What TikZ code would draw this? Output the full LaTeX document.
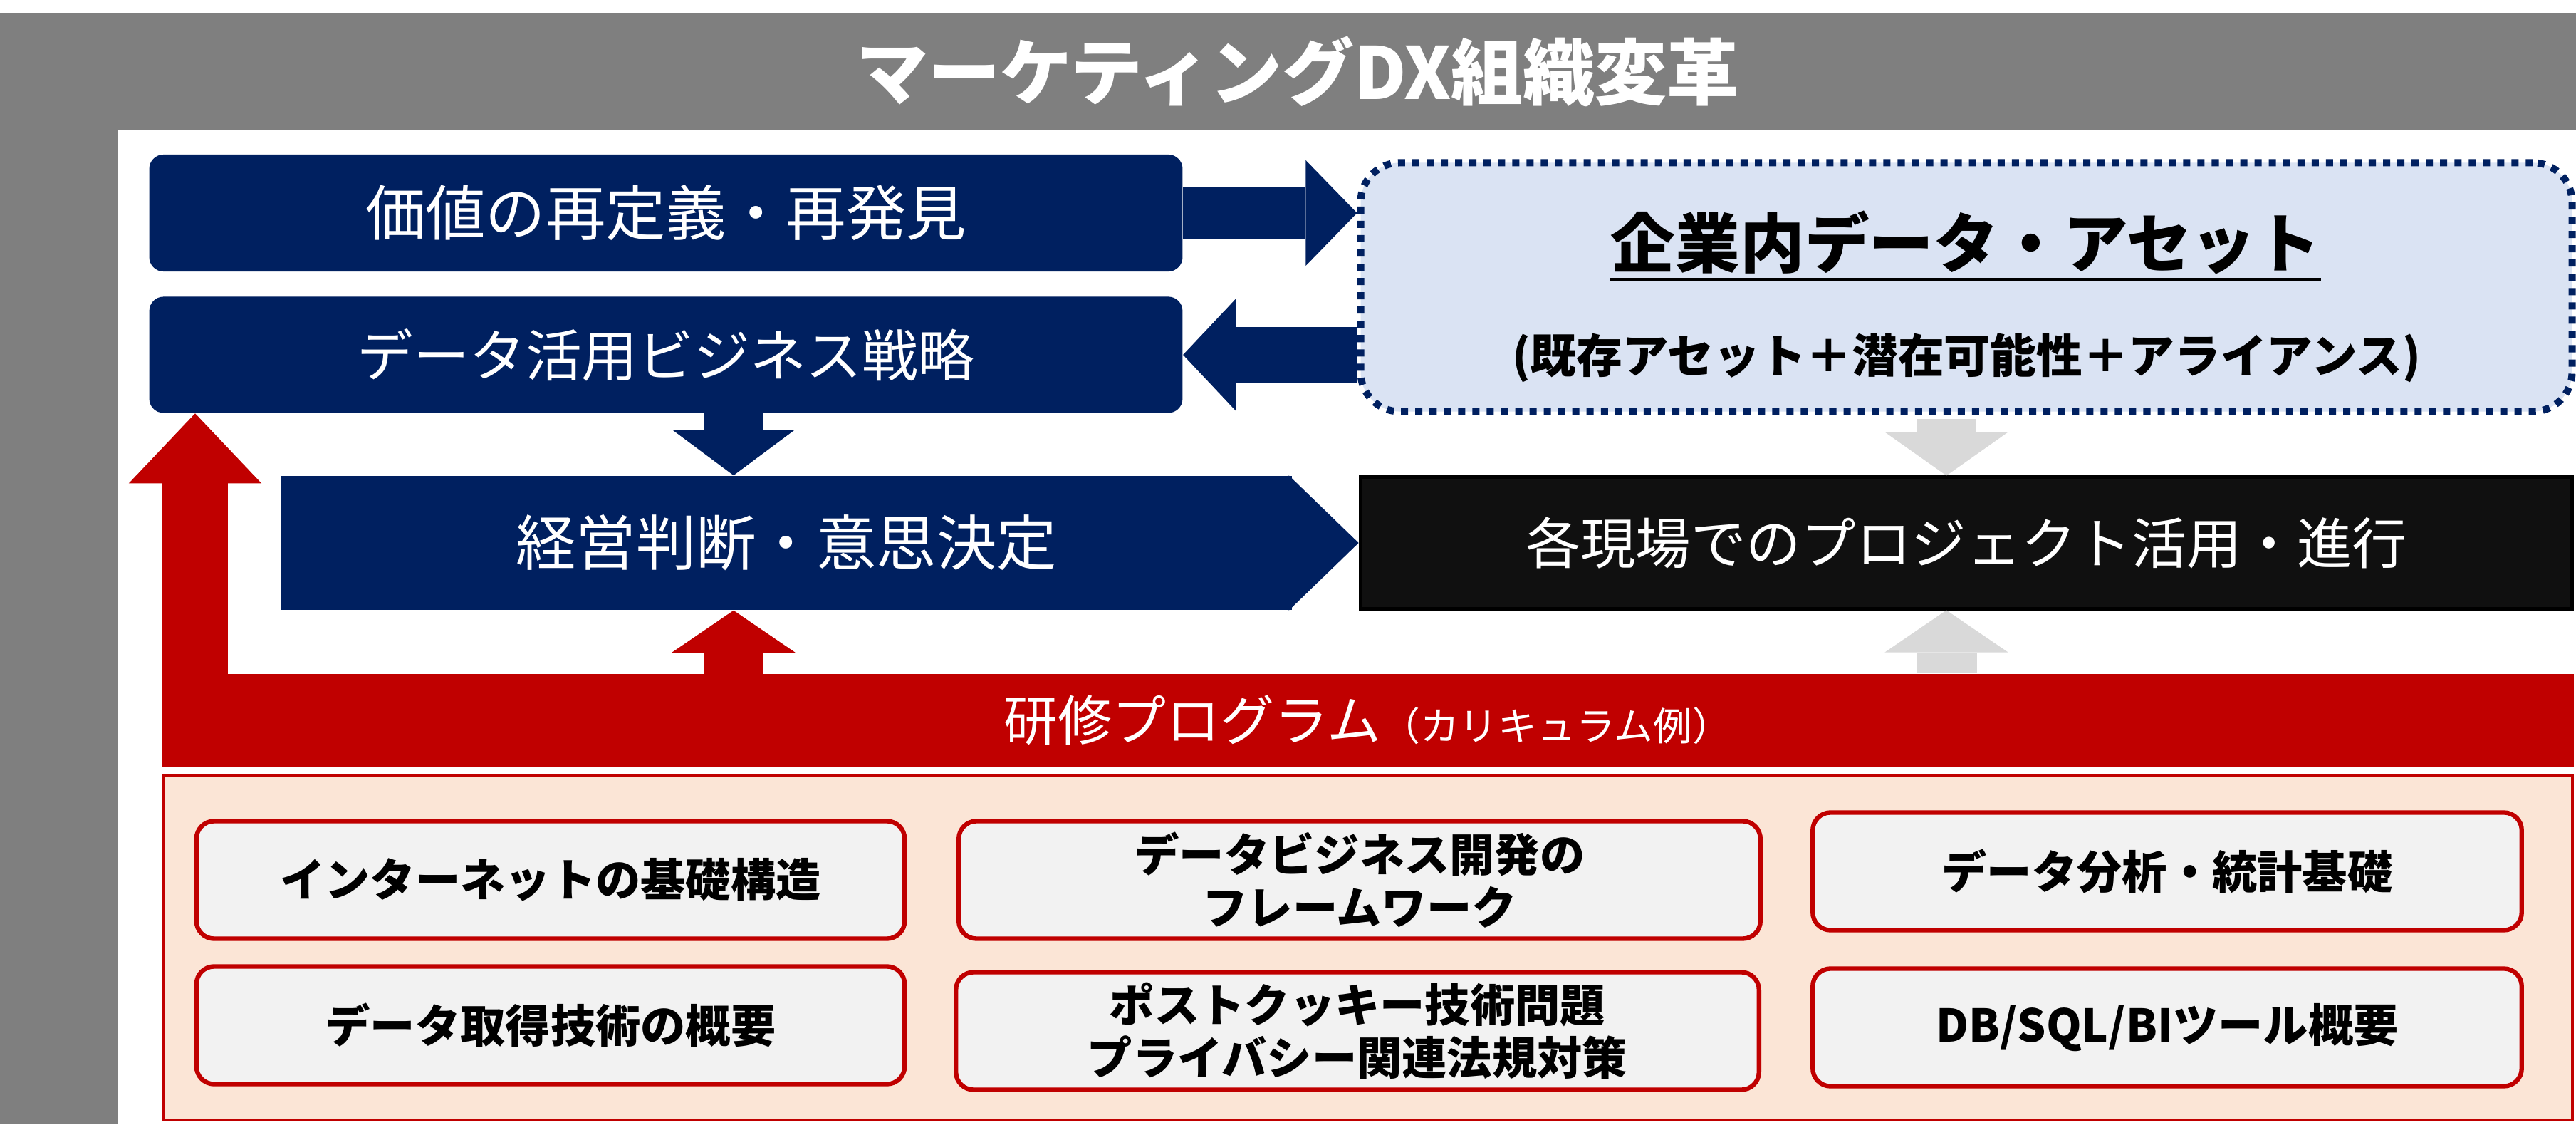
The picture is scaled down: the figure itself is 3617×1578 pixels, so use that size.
\documentclass[tikz,border=0pt]{standalone}
\usepackage{fontspec}
\setmainfont{Noto Sans CJK JP}
\usetikzlibrary{arrows.meta, positioning}

\definecolor{dxgray}{HTML}{7F7F7F}
\definecolor{dxnavy}{HTML}{002060}
\definecolor{dxpale}{HTML}{DAE3F3}
\definecolor{dxblack}{HTML}{101010}
\definecolor{dxlight}{HTML}{D9D9D9}
\definecolor{dxred}{HTML}{C00000}
\definecolor{dxpeach}{HTML}{FBE5D6}
\definecolor{dxcourse}{HTML}{F2F2F2}

\begin{document}
\begin{tikzpicture}[x=0.01cm, y=0.01cm,
    navybox/.style={rectangle, fill=dxnavy, text=white, rounded corners=0.2cm, minimum width=14.5cm, minimum height=1.64cm, font=\fontsize{24}{28}\selectfont},
    course/.style={rectangle, draw=dxred, line width=1.8pt, fill=dxcourse, rounded corners=0.25cm, minimum height=1.65cm, align=center, font=\bfseries\fontsize{18}{21}\selectfont},
    blockarrow/.style n args={4}{draw=#1, line width=#2, -{Triangle[length=#3 0 0, width=#4 0 0, line width=0pt]}}]
  \useasboundingbox (0,0) rectangle (3617,1578);
  % frame
  \fill[dxgray] (0,0) rectangle (3617,1560);
  \fill[white] (166,0) rectangle (3617,1396);
  \node[text=white, font=\bfseries\fontsize{28.7}{32}\selectfont] (title) at (1822,1478) {マーケティングDX組織変革};

  % arrow columns
  \coordinate (leftcol) at (274,0);
  \coordinate (midcol) at (1030,0);
  \coordinate (sidecol) at (2733,0);

  % upper flow
  \node[navybox] (value) at (935,1279) {価値の再定義・再発見};
  \node[navybox, minimum height=1.63cm, font=\fontsize{22.4}{26}\selectfont] (strat) at (935,1080) {データ活用ビジネス戦略};
  \node[navybox, sharp corners, minimum width=14.19cm, minimum height=1.88cm] (decide) at (1104,816) {経営判断・意思決定};
  \fill[dxnavy] ([xshift=-0.05cm]decide.north east) -- ([xshift=0.93cm]decide.east) -- ([xshift=-0.05cm]decide.south east) -- cycle;

  \node[draw=dxnavy, line width=2.85pt, dash pattern=on 2.85pt off 2.85pt, fill=dxpale, rounded corners=0.55cm, minimum width=17cm, minimum height=3.49cm] (asset) at (2761,1175) {};
  \node[inner sep=0pt, font=\bfseries\fontsize{25.8}{30}\selectfont] (assettitle) at (2760,1238) {企業内データ・アセット};
  \draw[line width=1.4pt] ([yshift=-0.17cm]assettitle.base west) -- ([yshift=-0.17cm]assettitle.base east);
  \node[font=\bfseries\fontsize{18.4}{22}\selectfont] (assetsub) at (2761,1076) {(既存アセット＋潜在可能性＋アライアンス)};

  \node[draw=black, line width=1.4pt, fill=dxblack, text=white, minimum width=17.0cm, minimum height=1.84cm, font=\fontsize{22}{26}\selectfont] (field) at (2761,816) {各現場でのプロジェクト活用・進行};

  % training
  \node[fill=dxred, text=white, minimum width=33.85cm, minimum height=1.3cm] (training) at (1920.5,567) {{\fontsize{21.6}{25}\selectfont 研修プログラム}{\fontsize{15.6}{18}\selectfont （カリキュラム例）}};
  \node[draw=dxred, line width=1.1pt, fill=dxpeach, minimum width=33.81cm, minimum height=4.83cm] (curriculum) at (1920.5,247.5) {};

  \node[course, minimum width=9.94cm] (internet) at (773,343) {インターネットの基礎構造};
  \node[course, minimum width=11.25cm] (framework) at (1909,343) {データビジネス開発の\\フレームワーク};
  \node[course, minimum width=9.95cm] (analysis) at (3043,355) {データ分析・統計基礎};
  \node[course, minimum width=9.94cm] (acquire) at (773,139) {データ取得技術の概要};
  \node[course, minimum width=11.27cm] (privacy) at (1906,131) {ポストクッキー技術問題\\プライバシー関連法規対策};
  \node[course, minimum width=9.95cm] (dbsql) at (3043,136) {DB/SQL/BIツール概要};

  % arrows
  \draw[blockarrow={dxnavy}{0.74cm}{0.72cm}{1.48cm}] (value.east) -- (value.east -| asset.west);
  \draw[blockarrow={dxnavy}{0.78cm}{0.74cm}{1.57cm}] (strat.east -| asset.west) -- (strat.east);
  \draw[blockarrow={dxnavy}{0.83cm}{0.64cm}{1.72cm}] (midcol |- strat.south) -- (midcol |- decide.north);
  \draw[blockarrow={dxred}{0.92cm}{0.98cm}{1.86cm}] (leftcol |- training.center) -- (leftcol |- strat.south);
  \draw[blockarrow={dxred}{0.84cm}{0.59cm}{1.73cm}] (midcol |- training.center) -- (midcol |- decide.south);
  \draw[blockarrow={dxlight}{0.83cm}{0.61cm}{1.73cm}] ([yshift=-0.05cm]sidecol |- asset.south) -- (sidecol |- field.north);
  \draw[blockarrow={dxlight}{0.85cm}{0.59cm}{1.73cm}] (sidecol |- training.north) -- (sidecol |- field.south);
\end{tikzpicture}
\end{document}
